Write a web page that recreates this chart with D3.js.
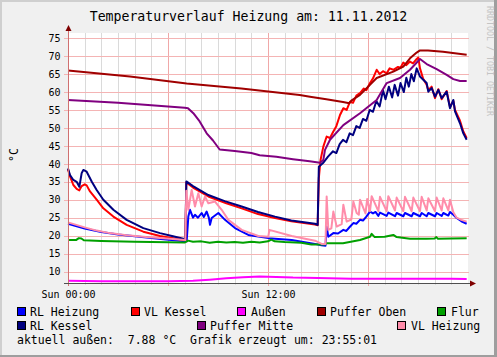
<!DOCTYPE html>
<html><head><meta charset="utf-8">
<script src="https://cdn.jsdelivr.net/npm/d3@7"></script>
<style>
html,body{margin:0;padding:0;background:#f0f0f0;}
svg{display:block;}
text{font-family:"DejaVu Sans Mono",monospace;}
</style></head>
<body>
<svg id="chart" width="497" height="357"></svg>
<script>
// ---------- data ----------
const chartTitle = "Temperaturverlauf Heizung am: 11.11.2012";
const yTickValues = [10,15,20,25,30,35,40,45,50,55,60,65,70,75];
const xTickHours = [0, 12];
const xTickLabels = ["Sun 00:00", "Sun 12:00"];
const unitLabel = "°C";
const footerText = "aktuell außen:  7.88 °C  Grafik erzeugt um: 23:55:01";
const watermark = "RRDTOOL / TOBI OETIKER";

const seriesNames = ["RL Heizung","VL Kessel","Außen","Puffer Oben","Flur","RL Kessel","Puffer Mitte","VL Heizung"];

// [hour, °C]
const rlHeizung = [[0,23.3],[1,22.0],[2,21.0],[3,20.3],[4,19.8],[5.72,19.0],[7.02,18.4],[7.12,18.4],[7.22,25.3],[7.32,27.2],[7.5,25.0],[7.62,25.8],[7.8,25.0],[8.02,26.3],[8.15,25.2],[8.32,26.7],[8.45,25.0],[8.52,23.0],[8.62,24.9],[9.02,26.3],[9.42,24.4],[10.02,22.1],[10.82,20.2],[12.02,19.3],[13.42,18.8],[14.82,17.7],[15.2,17.3],[15.45,17.2],[15.52,22.5],[15.62,19.7],[15.92,20.7],[16.2,20.6],[16.52,21.6],[16.7,21.3],[16.9,22.4],[17.12,23.5],[17.3,23.3],[17.52,24.4],[17.7,24.2],[17.9,25.3],[18.12,26.7],[18.3,26.2],[18.45,26.6],[18.62,25.5],[18.72,26.4],[19.12,25.5],[19.22,26.4],[19.62,25.4],[19.72,26.3],[20.12,25.4],[20.22,26.3],[20.62,25.4],[20.72,26.3],[21.12,25.4],[21.22,26.3],[21.52,25.4],[21.62,26.3],[22.02,25.4],[22.12,26.3],[22.42,25.5],[22.52,26.3],[22.82,25.6],[22.92,26.6],[23.12,25.8],[23.32,24.9],[23.6,24.0],[23.92,23.3]];

const vlKessel = [[0,38.5],[0.12,36.5],[0.32,34.1],[0.52,33.0],[0.68,32.6],[0.82,33.8],[1.0,34.3],[1.12,34.0],[1.32,32.3],[1.72,30.0],[2.12,27.6],[2.72,25.3],[3.52,23.0],[4.52,21.1],[5.52,19.9],[6.92,18.8],[7.04,18.8],[7.1,34.8],[7.5,33.4],[8.42,30.9],[9.5,29.0],[10.42,27.6],[11.4,26.0],[12.42,24.9],[13.4,24.0],[14.82,23.1],[14.98,22.9],[15.05,36.0],[15.15,41.0],[15.32,44.8],[15.52,47.6],[15.72,47.2],[15.92,49.0],[16.1,50.5],[16.32,53.6],[16.52,55.5],[16.72,55.0],[16.92,57.3],[17.1,57.0],[17.3,59.0],[17.52,59.7],[17.75,61.0],[17.9,60.5],[18.12,62.5],[18.3,63.8],[18.52,66.2],[18.7,65.0],[18.9,65.8],[19.12,65.2],[19.3,66.6],[19.52,66.2],[19.8,67.0],[19.95,66.8],[20.12,68.2],[20.3,67.5],[20.52,68.5],[20.7,68.0],[20.92,69.2],[21.02,69.6],[21.12,66.6],[21.3,63.8],[21.52,62.0],[21.62,60.5],[21.82,61.5],[22.02,58.3],[22.22,60.8],[22.42,58.0],[22.72,60.3],[22.92,55.8],[23.12,57.5],[23.22,55.0],[23.52,52.0],[23.72,49.0],[23.92,47.2]];

const aussen = [[0,7.4],[2,7.3],[4,7.3],[6,7.3],[7.5,7.4],[8.5,7.7],[9.5,8.1],[10.5,8.4],[11.5,8.6],[12.5,8.5],[13.5,8.3],[15,8.2],[17,8.0],[19,8.0],[21,8.0],[23,7.95],[23.92,7.88]];

const pufferOben = [[0,66.0],[3.72,64.3],[7.12,62.4],[10.4,61.0],[13.9,59.2],[14.52,58.7],[15.5,58.0],[16.5,57.2],[16.88,56.9],[17.0,57.6],[17.52,59.2],[18.52,63.9],[19.52,65.7],[20.12,67.1],[20.52,69.4],[20.92,71.0],[21.12,71.6],[21.6,71.6],[22.5,71.2],[23.92,70.4]];

const flur = [[0,18.8],[0.5,18.8],[0.65,19.3],[0.8,19.2],[0.95,18.7],[2,18.5],[4,18.3],[7.02,18.1],[7.2,18.6],[7.5,18.3],[8,18.4],[8.5,18.0],[9,18.3],[9.5,18.1],[10,18.2],[10.5,18.0],[11,18.3],[11.5,18.1],[12,18.4],[12.2,18.9],[12.4,18.4],[13,18.2],[14,18.0],[14.6,17.5],[15.4,17.5],[15.5,17.9],[16.5,17.9],[17.52,18.8],[18.12,19.7],[18.22,20.5],[18.4,19.6],[19,19.7],[19.52,20.2],[19.72,19.6],[20.52,19.1],[21.5,19.1],[22,19.2],[22.1,19.6],[22.2,19.1],[23,19.2],[23.92,19.3]];

const rlKessel = [[0,38.7],[0.12,36.9],[0.32,35.5],[0.52,35.0],[0.68,33.6],[0.82,37.4],[0.92,38.3],[1.12,37.8],[1.42,35.1],[1.72,32.7],[2.12,30.0],[2.72,27.2],[3.52,24.4],[4.52,22.1],[5.52,20.7],[6.3,19.8],[7.04,19.0],[7.1,35.1],[7.5,33.8],[8.42,31.3],[9.4,29.6],[10.42,28.1],[11.4,26.6],[12.42,25.3],[13.4,24.2],[14.82,23.3],[14.98,23.0],[15.05,39.2],[15.3,40.2],[15.6,42.0],[15.9,43.5],[16.1,43.0],[16.3,45.5],[16.5,46.7],[16.7,46.0],[16.9,48.5],[17.1,48.0],[17.3,50.5],[17.5,50.0],[17.7,52.5],[17.9,52.0],[18.1,55.0],[18.3,54.5],[18.5,57.5],[18.7,56.0],[18.9,60.5],[19.05,58.0],[19.25,61.5],[19.45,58.5],[19.6,62.0],[19.8,59.0],[19.95,62.5],[20.15,60.0],[20.3,64.0],[20.45,61.5],[20.6,65.0],[20.75,63.0],[20.92,66.6],[21.12,64.3],[21.3,63.5],[21.52,62.5],[21.62,60.1],[21.82,61.1],[22.02,58.7],[22.22,60.6],[22.42,58.3],[22.72,60.1],[22.92,55.5],[23.12,57.8],[23.22,54.6],[23.52,51.3],[23.72,48.5],[23.92,46.7]];

const pufferMitte = [[0,57.8],[3,57.0],[5,56.3],[7.0,55.6],[7.2,55.5],[7.52,54.1],[7.9,51.8],[8.32,48.5],[8.7,46.5],[9.1,44.0],[10,43.6],[11,43.0],[11.5,42.4],[12.5,42.0],[13.5,41.3],[14.5,40.7],[15.12,40.3],[15.32,41.1],[15.42,43.9],[15.72,46.7],[16.52,50.8],[17.52,54.1],[18.52,57.8],[19.12,62.5],[19.92,63.9],[20.52,66.2],[21.12,69.2],[21.52,67.8],[22.12,66.4],[22.72,64.8],[23.12,63.6],[23.52,63.1],[23.92,63.1]];

const vlHeizung = [[0,23.7],[1,22.3],[1.72,21.4],[2.5,20.7],[3.72,20.0],[4.7,19.6],[5.72,19.3],[7.04,18.8],[7.1,32.5],[7.22,27.2],[7.42,32.7],[7.62,28.1],[7.82,31.8],[8.02,28.1],[8.22,30.9],[8.42,29.0],[8.82,29.5],[9.22,27.2],[9.62,24.4],[10.42,21.6],[11.42,19.9],[12.02,19.7],[12.08,21.6],[13.42,19.9],[14.82,18.6],[15.22,17.7],[15.45,17.7],[15.52,30.9],[15.62,21.6],[15.8,22.0],[15.92,26.7],[16.12,22.5],[16.42,23.2],[16.52,28.6],[16.72,23.9],[17.0,24.5],[17.12,29.5],[17.32,26.3],[17.45,25.8],[17.52,30.0],[17.85,26.2],[17.95,30.2],[18.12,26.8],[18.22,31.0],[18.62,26.8],[18.72,30.8],[19.12,26.8],[19.22,31.0],[19.62,27.0],[19.72,30.6],[20.12,26.8],[20.22,30.8],[20.62,26.8],[20.72,30.6],[21.12,26.8],[21.22,30.8],[21.52,27.0],[21.62,30.4],[22.02,26.8],[22.12,30.6],[22.42,27.0],[22.52,30.4],[22.82,27.0],[22.92,30.0],[23.12,26.5],[23.32,25.0],[23.6,24.4],[23.92,23.9]];

const seriesData = [rlHeizung, vlKessel, aussen, pufferOben, flur, rlKessel, pufferMitte, vlHeizung];

// ---------- styles ----------
const seriesColors = ["#0000ff","#ff0000","#ff00ff","#a00000","#00a000","#000080","#800080","#ff8caa"];
const legendLayout = [[17,30,311],[131,144,311],[237,251,311],[317,330,311],[437,451,311],[17,30,325],[197,210,325],[397,411,325]];

// ---------- drawing ----------
const svg = d3.select("#chart");
const W = 497, H = 357;
const L = 68, R = 468, T = 33, B = 283;

svg.append("rect").attr("x",0).attr("y",0).attr("width",W).attr("height",H).attr("fill","#f0f0f0");
// frame
svg.append("rect").attr("x",0).attr("y",0).attr("width",W).attr("height",2).attr("fill","#cfcfcf");
svg.append("rect").attr("x",0).attr("y",0).attr("width",2).attr("height",H).attr("fill","#cfcfcf");
svg.append("rect").attr("x",W-3).attr("y",0).attr("width",3).attr("height",H).attr("fill","#9e9e9e");
svg.append("rect").attr("x",0).attr("y",H-2).attr("width",W).attr("height",2).attr("fill","#9e9e9e");

const x = d3.scaleLinear().domain([0,24]).range([L,R]);
const y = d3.scaleLinear().domain([6.8,76.45]).range([B,T]);

svg.append("rect").attr("x",L).attr("y",T).attr("width",R-L).attr("height",B-T).attr("fill","#ffffff");

// minor vertical grid (hourly)
const hoursAll = d3.range(1,24);
svg.append("g").selectAll("line").data(hoursAll.filter(h=>h%6!==0)).join("line")
  .attr("x1",d=>Math.round(x(d))+0.5).attr("x2",d=>Math.round(x(d))+0.5)
  .attr("y1",T).attr("y2",B+2).attr("stroke","#dadada").attr("stroke-width",1);
// major vertical grid
svg.append("g").selectAll("line").data([0,6,12,18]).join("line")
  .attr("x1",d=>Math.round(x(d))+0.5).attr("x2",d=>Math.round(x(d))+0.5)
  .attr("y1",T).attr("y2",B+3).attr("stroke","#f0a8a8").attr("stroke-width",1);
// horizontal grid
svg.append("g").selectAll("line").data(yTickValues).join("line")
  .attr("x1",L-4).attr("x2",R+1)
  .attr("y1",d=>Math.round(y(d))+0.5).attr("y2",d=>Math.round(y(d))+0.5)
  .attr("stroke","#f4b4b4").attr("stroke-width",1);

// axes labels via d3 axes
const yAxis = d3.axisLeft(y).tickValues(yTickValues).tickSize(0).tickPadding(7.5);
const gy = svg.append("g").attr("transform",`translate(${L},0)`).call(yAxis);
gy.select(".domain").remove();
gy.selectAll("text").attr("font-family","DejaVu Sans Mono").attr("font-size","10px").attr("fill","#000");

const xAxis = d3.axisBottom(x).tickValues(xTickHours).tickFormat((d,i)=>xTickLabels[i]).tickSize(0).tickPadding(8);
const gx = svg.append("g").attr("transform",`translate(0,${B})`).call(xAxis);
gx.select(".domain").remove();
gx.selectAll("text").attr("font-family","DejaVu Sans Mono").attr("font-size","10px").attr("fill","#000");

// series lines
const line = d3.line().x(d=>x(d[0])).y(d=>y(d[1]));
svg.append("g").selectAll("path").data(seriesData).join("path")
  .attr("d",line).attr("fill","none")
  .attr("stroke",(d,i)=>seriesColors[i]).attr("stroke-width",2)
  .attr("stroke-linejoin","round").attr("stroke-linecap","butt");

// axis lines and arrows
svg.append("line").attr("x1",L+0.5).attr("x2",L+0.5).attr("y1",T-3).attr("y2",B+3).attr("stroke","#d07070").attr("stroke-width",1);
svg.append("line").attr("x1",L-4).attr("x2",R+4).attr("y1",B+0.5).attr("y2",B+0.5).attr("stroke","#505050").attr("stroke-width",1);
svg.append("path").attr("d",`M${L-2.5},${T-2}L${L+3.5},${T-2}L${L+0.5},${T-8}Z`).attr("fill","#7f0000");
svg.append("path").attr("d",`M${R+2},${B-2.5}L${R+2},${B+3.5}L${R+8},${B+0.5}Z`).attr("fill","#7f0000");

// title
svg.append("text").attr("x",248.5).attr("y",21).attr("text-anchor","middle")
  .attr("font-size","13.2px").attr("fill","#000").text(chartTitle);

// unit label
svg.append("text").attr("transform","translate(18,155) rotate(-90)").attr("text-anchor","middle")
  .attr("font-size","11.5px").attr("fill","#000").text(unitLabel);

// watermark
svg.append("text").attr("transform","translate(486.5,61) rotate(90)").attr("text-anchor","middle")
  .attr("font-size","8.3px").attr("fill","#c4c4c4").text(watermark);

// legend
const lg = svg.append("g").selectAll("g").data(seriesNames).join("g");
lg.append("rect").attr("x",(d,i)=>legendLayout[i][0]+0.5).attr("y",(d,i)=>legendLayout[i][2]-3.5)
  .attr("width",8).attr("height",8).attr("fill",(d,i)=>seriesColors[i]).attr("stroke","#000").attr("stroke-width",1);
lg.append("text").attr("x",(d,i)=>legendLayout[i][1]).attr("y",(d,i)=>legendLayout[i][2]+4.5)
  .attr("font-size","11.5px").attr("fill","#000").text(d=>d);

svg.append("text").attr("x",17).attr("y",343.5).attr("font-size","11.5px").attr("fill","#000")
  .style("white-space","pre").text(footerText);
</script>
</body></html>
